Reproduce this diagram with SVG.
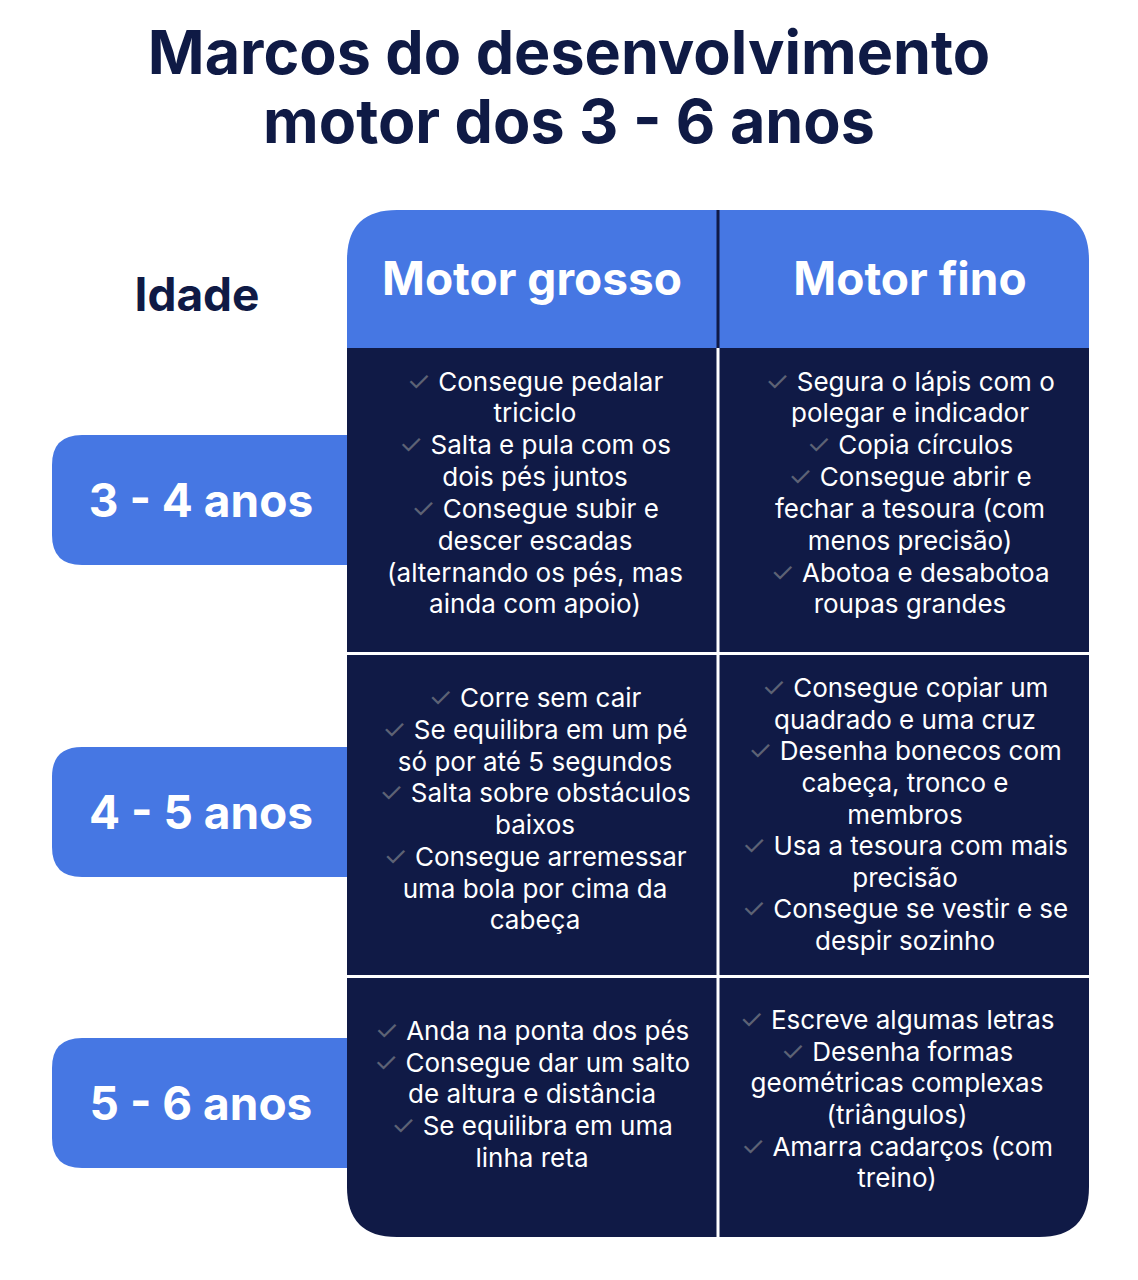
<svg xmlns="http://www.w3.org/2000/svg" width="1138" height="1280" viewBox="0 0 1138 1280">
<style>
.t{font-family:Inter,"Liberation Sans",sans-serif;font-weight:700;fill:#0f1a45;text-anchor:middle}
.h{font-family:Inter,"Liberation Sans",sans-serif;font-weight:700;fill:#fff;text-anchor:middle;font-size:46px}
.c{font-family:Inter,"Liberation Sans",sans-serif;fill:#fff;text-anchor:middle;font-size:26px}
.k{fill:#5d6275;font-size:27px}
.blue{fill:#4677e3}
.dark{fill:#101a46}
</style>
<rect width="1138" height="1280" fill="#fff"/>
<g id="title">
<text class="t" x="569" y="74" font-size="61">Marcos do desenvolvimento</text>
<text class="t" x="569" y="143" font-size="61">motor dos 3 - 6 anos</text>
</g>
<g id="table">
<path class="blue" d="M347 348 V260 Q347 210 397 210 H1039 Q1089 210 1089 260 V348 Z"/>
<path class="dark" d="M347 348 H1089 V1187 Q1089 1237 1039 1237 H397 Q347 1237 347 1187 Z"/>
<g stroke="#fff" stroke-width="3"><line x1="347" y1="653.5" x2="1089" y2="653.5"/><line x1="347" y1="976.5" x2="1089" y2="976.5"/><line x1="718" y1="348" x2="718" y2="1237"/></g>
<line x1="718" y1="210" x2="718" y2="348" stroke="#101a46" stroke-width="3"/>
</g>
<g id="headers">
<text class="t" x="197" y="311" font-size="46">Idade</text>
<text class="h" x="532" y="295">Motor grosso</text>
<text class="h" x="910" y="295">Motor fino</text>
</g>
<g id="ages">
<path class="blue" d="M347 435 H82 Q52 435 52 465 V535 Q52 565 82 565 H347 Z"/>
<path class="blue" d="M347 747 H82 Q52 747 52 777 V847 Q52 877 82 877 H347 Z"/>
<path class="blue" d="M347 1038 H82 Q52 1038 52 1068 V1138 Q52 1168 82 1168 H347 Z"/>
<text class="h" x="201" y="517">3 - 4 anos</text>
<text class="h" x="201" y="829">4 - 5 anos</text>
<text class="h" x="201" y="1120">5 - 6 anos</text>
</g>
<g id="r1c1" class="c">
<text x="535" y="391"><tspan class="k">✓ </tspan>Consegue pedalar</text>
<text x="535" y="422">triciclo</text>
<text x="535" y="454"><tspan class="k">✓ </tspan>Salta e pula com os</text>
<text x="535" y="486">dois pés juntos</text>
<text x="535" y="518"><tspan class="k">✓ </tspan>Consegue subir e</text>
<text x="535" y="550">descer escadas</text>
<text x="535" y="582">(alternando os pés, mas</text>
<text x="535" y="613">ainda com apoio)</text>
</g>
<g id="r1c2" class="c">
<text x="910" y="391"><tspan class="k">✓ </tspan>Segura o lápis com o</text>
<text x="910" y="422">polegar e indicador</text>
<text x="910" y="454"><tspan class="k">✓ </tspan>Copia círculos</text>
<text x="910" y="486"><tspan class="k">✓ </tspan>Consegue abrir e</text>
<text x="910" y="518">fechar a tesoura (com</text>
<text x="910" y="550">menos precisão)</text>
<text x="910" y="582"><tspan class="k">✓ </tspan>Abotoa e desabotoa</text>
<text x="910" y="613">roupas grandes</text>
</g>
<g id="r2c1" class="c">
<text x="535" y="707"><tspan class="k">✓ </tspan>Corre sem cair</text>
<text x="535" y="739"><tspan class="k">✓ </tspan>Se equilibra em um pé</text>
<text x="535" y="771">só por até 5 segundos</text>
<text x="535" y="802"><tspan class="k">✓ </tspan>Salta sobre obstáculos</text>
<text x="535" y="834">baixos</text>
<text x="535" y="866"><tspan class="k">✓ </tspan>Consegue arremessar</text>
<text x="535" y="898">uma bola por cima da</text>
<text x="535" y="929">cabeça</text>
</g>
<g id="r2c2" class="c">
<text x="905" y="697"><tspan class="k">✓ </tspan>Consegue copiar um</text>
<text x="905" y="729">quadrado e uma cruz</text>
<text x="905" y="760"><tspan class="k">✓ </tspan>Desenha bonecos com</text>
<text x="905" y="792">cabeça, tronco e</text>
<text x="905" y="824">membros</text>
<text x="905" y="855"><tspan class="k">✓ </tspan>Usa a tesoura com mais</text>
<text x="905" y="887">precisão</text>
<text x="905" y="918"><tspan class="k">✓ </tspan>Consegue se vestir e se</text>
<text x="905" y="950">despir sozinho</text>
</g>
<g id="r3c1" class="c">
<text x="532" y="1040"><tspan class="k">✓ </tspan>Anda na ponta dos pés</text>
<text x="532" y="1072"><tspan class="k">✓ </tspan>Consegue dar um salto</text>
<text x="532" y="1103">de altura e distância</text>
<text x="532" y="1135"><tspan class="k">✓ </tspan>Se equilibra em uma</text>
<text x="532" y="1167">linha reta</text>
</g>
<g id="r3c2" class="c">
<text x="897" y="1029"><tspan class="k">✓ </tspan>Escreve algumas letras</text>
<text x="897" y="1061"><tspan class="k">✓ </tspan>Desenha formas</text>
<text x="897" y="1092">geométricas complexas</text>
<text x="897" y="1124">(triângulos)</text>
<text x="897" y="1156"><tspan class="k">✓ </tspan>Amarra cadarços (com</text>
<text x="897" y="1187">treino)</text>
</g>
<g id="connectors"/>
</svg>
